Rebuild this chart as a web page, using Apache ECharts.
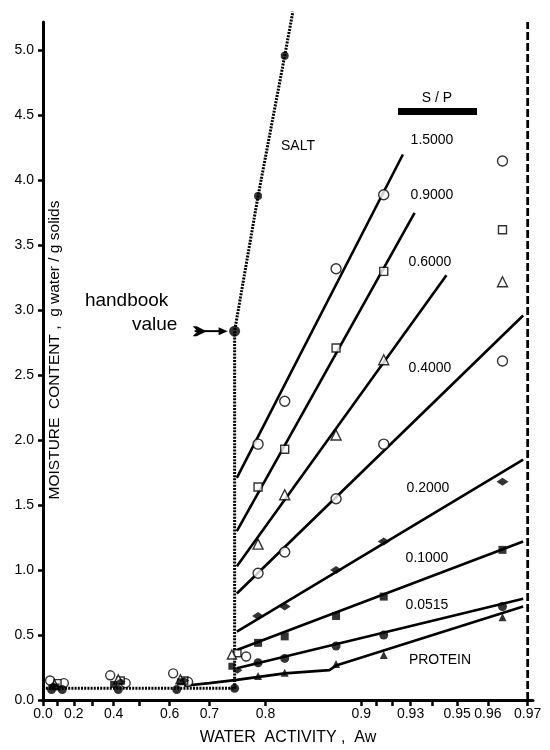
<!DOCTYPE html>
<html><head><meta charset="utf-8">
<script src="https://cdn.jsdelivr.net/npm/echarts@6/dist/echarts.min.js"></script>
<style>html,body{margin:0;padding:0;background:#fff}#c{width:550px;height:750px}</style>
</head><body><div id="c"></div>
<script>
// ---- axis ticks / labels (water activity on a -ln(1-Aw) scale) ----
const awTicks = [0, 0.1, 0.2, 0.3, 0.4, 0.5, 0.6, 0.7, 0.8, 0.9, 0.91, 0.92, 0.93, 0.94, 0.95, 0.96, 0.97];
const awLabels = [0, 0.2, 0.4, 0.6, 0.7, 0.8, 0.9, 0.93, 0.95, 0.96, 0.97];
const awLabelText = ['0.0', '0.2', '0.4', '0.6', '0.7', '0.8', '0.9', '0.93', '0.95', '0.96', '0.97'];
const yTicks = [0, 0.5, 1.0, 1.5, 2.0, 2.5, 3.0, 3.5, 4.0, 4.5, 5.0];
const yLabelText = ['0.0', '0.5', '1.0', '1.5', '2.0', '2.5', '3.0', '3.5', '4.0', '4.5', '5.0'];

// ---- measured points (Aw columns) ----
const awPoints = [0.789, 0.826, 0.880, 0.915, 0.964];
const sp1500 = [1.97, 2.30, 3.32, 3.89, 4.15];
const sp0900 = [1.64, 1.93, 2.71, 3.30, 3.62];
const sp0600 = [1.20, 1.58, 2.04, 2.62, 3.22];
const sp0400 = [0.976, 1.14, 1.55, 1.97, 2.61];
const sp0200 = [0.647, 0.72, 1.00, 1.22, 1.68];
const sp0100 = [0.44, 0.49, 0.647, 0.796, 1.156];
const sp0515 = [0.287, 0.32, 0.416, 0.50, 0.72];
const protein = [0.185, 0.21, 0.277, 0.347, 0.637];

// ---- low-Aw points ----
const lowOpenCircleAw = [0.05, 0.14, 0.385, 0.45, 0.61, 0.65, 0.77];
const lowOpenCircleY = [0.15, 0.13, 0.19, 0.13, 0.205, 0.14, 0.335];
const lowOpenSquareAw = [0.10, 0.43, 0.64, 0.755];
const lowOpenSquareY = [0.13, 0.15, 0.15, 0.36];
const lowOpenTriAw = [0.08, 0.42, 0.63, 0.745];
const lowOpenTriY = [0.12, 0.16, 0.16, 0.35];
const lowFilledCircleAw = [0.06, 0.13, 0.42, 0.62, 0.75];
const lowFilledCircleY = [0.08, 0.08, 0.08, 0.08, 0.09];
const lowFilledSquareAw = [0.09, 0.40, 0.63, 0.745];
const lowFilledSquareY = [0.10, 0.12, 0.14, 0.26];
const lowFilledDiamondAw = [0.07, 0.43, 0.64, 0.755];
const lowFilledDiamondY = [0.11, 0.14, 0.15, 0.23];

// ---- fitted lines (start at Aw 0.754) ----
const fitStartAw = 0.754;
const fitStartY = [1.71, 1.30, 1.03, 0.82, 0.526, 0.385, 0.244];
const fitEndAw = [0.926, 0.932, 0.946, 0.969, 0.969, 0.969, 0.969];
const fitEndY = [4.20, 3.75, 3.27, 2.96, 1.85, 1.22, 0.78];
const proteinLineAw = [0.64, 0.70, 0.754, 0.826, 0.874, 0.880, 0.969];
const proteinLineY = [0.11, 0.13, 0.155, 0.205, 0.23, 0.265, 0.72];

// ---- salt ----
const saltLineAw = [0.02, 0.75, 0.75, 0.789, 0.826, 0.836];
const saltLineY = [0.09, 0.09, 2.84, 3.88, 4.96, 5.30];
const saltAw = [0.75, 0.789, 0.826];
const saltY = [2.84, 3.88, 4.96];
const limitAw = 0.97;

const T = aw => -Math.log(1 - aw);
const pts = (xs, ys) => xs.map((a, i) => [T(a), ys[i]]);

const chart = echarts.init(document.getElementById('c'), null, {renderer: 'canvas'});
const FONT = 'Liberation Sans, Arial, Helvetica, sans-serif';

function openSeries(xs, ys, symbol, size) {
  return {type: 'scatter', data: pts(xs, ys), symbol, symbolSize: size, z: 5,
    itemStyle: {color: '#fff', borderColor: '#000', borderWidth: 1.4}};
}
function filledSeries(xs, ys, symbol, size) {
  return {type: 'scatter', data: pts(xs, ys), symbol, symbolSize: size, z: 5,
    itemStyle: {color: '#000'}};
}
function fitLine(i) {
  return {type: 'line', data: [[T(fitStartAw), fitStartY[i]], [T(fitEndAw[i]), fitEndY[i]]],
    symbol: 'none', lineStyle: {color: '#000', width: 2.6}, z: 3};
}

const series = [];
for (let i = 0; i < 7; i++) series.push(fitLine(i));
series.push({type: 'line', data: pts(proteinLineAw, proteinLineY), symbol: 'none', lineStyle: {color: '#000', width: 2.6}, z: 3});
series.push({type: 'line', data: pts(saltLineAw, saltLineY), symbol: 'none', clip: false,
  lineStyle: {color: '#000', width: 3, type: [2, 1.2]}, z: 2});
series.push({type: 'line', data: [[T(limitAw), 0], [T(limitAw), 5.22]], symbol: 'none',
  lineStyle: {color: '#000', width: 2.8, type: [8, 3]}, z: 2});
series.push(openSeries(awPoints, sp1500, 'circle', 10));
series.push(openSeries(awPoints, sp0900, 'rect', 8));
series.push(openSeries(awPoints, sp0600, 'triangle', 10));
series.push(openSeries(awPoints, sp0400, 'circle', 10));
series.push(filledSeries(awPoints, sp0200, 'diamond', [12, 8]));
series.push(filledSeries(awPoints, sp0100, 'rect', 8));
series.push(filledSeries(awPoints, sp0515, 'circle', 9));
series.push(filledSeries(awPoints, protein, 'triangle', 8));
series.push(openSeries(lowOpenCircleAw, lowOpenCircleY, 'circle', 9));
series.push(openSeries(lowOpenSquareAw, lowOpenSquareY, 'rect', 7));
series.push(openSeries(lowOpenTriAw, lowOpenTriY, 'triangle', 9));
series.push(filledSeries(lowFilledCircleAw, lowFilledCircleY, 'circle', 9));
series.push(filledSeries(lowFilledSquareAw, lowFilledSquareY, 'rect', 7));
series.push(filledSeries(lowFilledDiamondAw, lowFilledDiamondY, 'diamond', [10, 7]));
series.push({type: 'scatter', data: pts(saltAw, saltY), symbol: 'circle', clip: false,
  symbolSize: (v, p) => p.dataIndex === 0 ? 11 : 8, itemStyle: {color: '#000'}, z: 6});

const labelMap = {};
awLabels.forEach((a, i) => { labelMap[T(a).toFixed(6)] = awLabelText[i]; });

chart.setOption({
  animation: false,
  backgroundColor: '#fff',
  grid: {left: 43, right: 17, top: 22, bottom: 50, containLabel: false},
  xAxis: {
    type: 'value', min: 0, max: 3.545,
    axisLine: {lineStyle: {color: '#000', width: 3}},
    axisTick: {show: true, length: 6, lineStyle: {color: '#000', width: 2.5}, customValues: awTicks.map(T)},
    axisLabel: {customValues: awLabels.map(T), color: '#000', fontSize: 14, fontFamily: FONT, margin: 7,
      formatter: v => labelMap[Number(v).toFixed(6)] || ''},
    splitLine: {show: false}
  },
  yAxis: {
    type: 'value', min: 0, max: 5.22,
    axisLine: {show: true, lineStyle: {color: '#000', width: 3}},
    axisTick: {show: true, length: 5, lineStyle: {color: '#000', width: 2.5}, customValues: yTicks},
    axisLabel: {customValues: yTicks, color: '#000', fontSize: 14, fontFamily: FONT, margin: 9,
      formatter: v => yLabelText[Math.round(v * 2)]},
    splitLine: {show: false}
  },
  series
});

// annotations
const hb = chart.convertToPixel({gridIndex: 0}, [T(saltAw[0]), saltY[0]]);
const txt = (x, y, s, size, extra) => Object.assign({type: 'text', x, y,
  style: {text: s, fill: '#000', font: `${size}px ${FONT}`, textAlign: 'center', textVerticalAlign: 'middle'}}, extra || {});
chart.setOption({
  graphic: [
    txt(55, 350, 'MOISTURE  CONTENT ,  g water / g solids', 15.5, {rotation: Math.PI / 2}),
    txt(288, 738, 'WATER  ACTIVITY ,  Aw', 16),
    txt(298, 146, 'SALT', 14),
    txt(437, 98, 'S / P', 14),
    {type: 'rect', shape: {x: 398, y: 108, width: 79, height: 7}, style: {fill: '#000'}},
    txt(432, 140, '1.5000', 14),
    txt(432, 195, '0.9000', 14),
    txt(430, 262, '0.6000', 14),
    txt(430, 368, '0.4000', 14),
    txt(428, 488, '0.2000', 14),
    txt(427, 558, '0.1000', 14),
    txt(427, 605, '0.0515', 14),
    txt(440, 660, 'PROTEIN', 14),
    txt(hb[0] - 108, hb[1] - 30, 'handbook', 19),
    txt(hb[0] - 80, hb[1] - 6, 'value', 19),
    {type: 'line', shape: {x1: hb[0] - 40, y1: hb[1], x2: hb[0] - 10, y2: hb[1]}, style: {stroke: '#000', lineWidth: 2}},
    {type: 'polygon', shape: {points: [[hb[0] - 7, hb[1]], [hb[0] - 16, hb[1] - 4], [hb[0] - 16, hb[1] + 4]]}, style: {fill: '#000'}},
    {type: 'polygon', shape: {points: [[hb[0] - 28, hb[1]], [hb[0] - 38, hb[1] - 5], [hb[0] - 42, hb[1] - 5], [hb[0] - 37, hb[1]], [hb[0] - 42, hb[1] + 5], [hb[0] - 38, hb[1] + 5]]}, style: {fill: '#000'}}
  ]
});
</script></body></html>
